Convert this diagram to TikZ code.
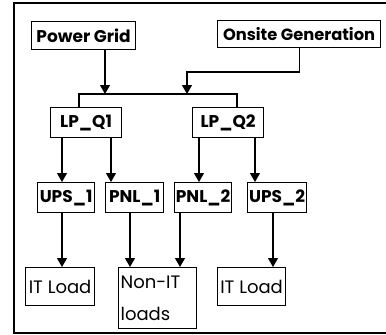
\documentclass[tikz,border=0pt]{standalone}
\usepackage{fontspec}
\setmainfont{Poppins}
\usetikzlibrary{arrows.meta}

\tikzset{
  unit/.style={draw, line width=1.2pt, anchor=north west, inner xsep=1pt, inner ysep=0pt, align=left,
    font=\bfseries\fontsize{17}{20}\selectfont},
  load/.style={unit, font=\fontsize{18}{32}\selectfont},
  size/.style 2 args={minimum width=#1, minimum height=#2},
  wire/.style={line width=1.2pt},
  feed/.style={wire, -{Triangle[width=10pt,length=9pt]}},
}

\begin{document}
\begin{tikzpicture}[x=1pt,y=-1pt]
  \useasboundingbox (0,0) rectangle (386,335);
  \fill[white] (0,0) rectangle (386,335);
  % outer frame
  \draw[wire] (386,3) -- (14,3) -- (14,333) -- (386,333);

  % sources
  \node[unit, size={104pt}{28pt}] (pg) at (31,21) {Power Grid};
  \node[unit, size={163pt}{27pt}, font=\bfseries\fontsize{16.3}{20}\selectfont] (og) at (217,20) {Onsite Generation};

  % switchgear
  \node[unit, size={71pt}{30pt}] (lq1) at (50,107) {LP\_Q1};
  \node[unit, size={71pt}{30pt}] (lq2) at (192,107) {LP\_Q2};

  % ups and panels
  \node[unit, size={57pt}{30pt}] (ups1) at (37,182) {UPS\_1};
  \node[unit, size={58pt}{30pt}] (pnl1) at (105,182) {PNL\_1};
  \node[unit, size={57pt}{30pt}] (pnl2) at (174,182) {PNL\_2};
  \node[unit, size={59pt}{30pt}] (ups2) at (247,182) {UPS\_2};

  % loads
  \node[load, size={69pt}{38pt}] (it1) at (25,267) {IT Load};
  \node[load, size={78pt}{61pt}, text width=74pt, inner xsep=2pt] (non) at (118,267) {Non-IT\\loads};
  \node[load, size={68pt}{38pt}] (it2) at (217,267) {IT Load};

  % feeds into the bus
  \coordinate (pgdrop) at (105,94);
  \coordinate (ogturn) at (187,72);
  \coordinate (ogdrop) at (187,94);
  \coordinate (busw) at (79,94);
  \coordinate (buse) at (237,94);
  \draw[feed] (pg.south -| pgdrop) -- (pgdrop);
  \draw[feed] (og.south) |- (ogturn) -- (ogdrop);
  \draw[wire] (lq1.north -| busw) -- (busw) -- (buse) -- (lq2.north -| buse);

  % downstream feeds
  \foreach \src/\dst/\x in {lq1/ups1/62, lq1/pnl1/111, lq2/pnl2/199, lq2/ups2/255,
                            ups1/it1/62, pnl1/non/130, pnl2/non/180, ups2/it2/273}
    \draw[feed] (\src.south -| \x,0) -- (\dst.north -| \x,0);
\end{tikzpicture}
\end{document}
